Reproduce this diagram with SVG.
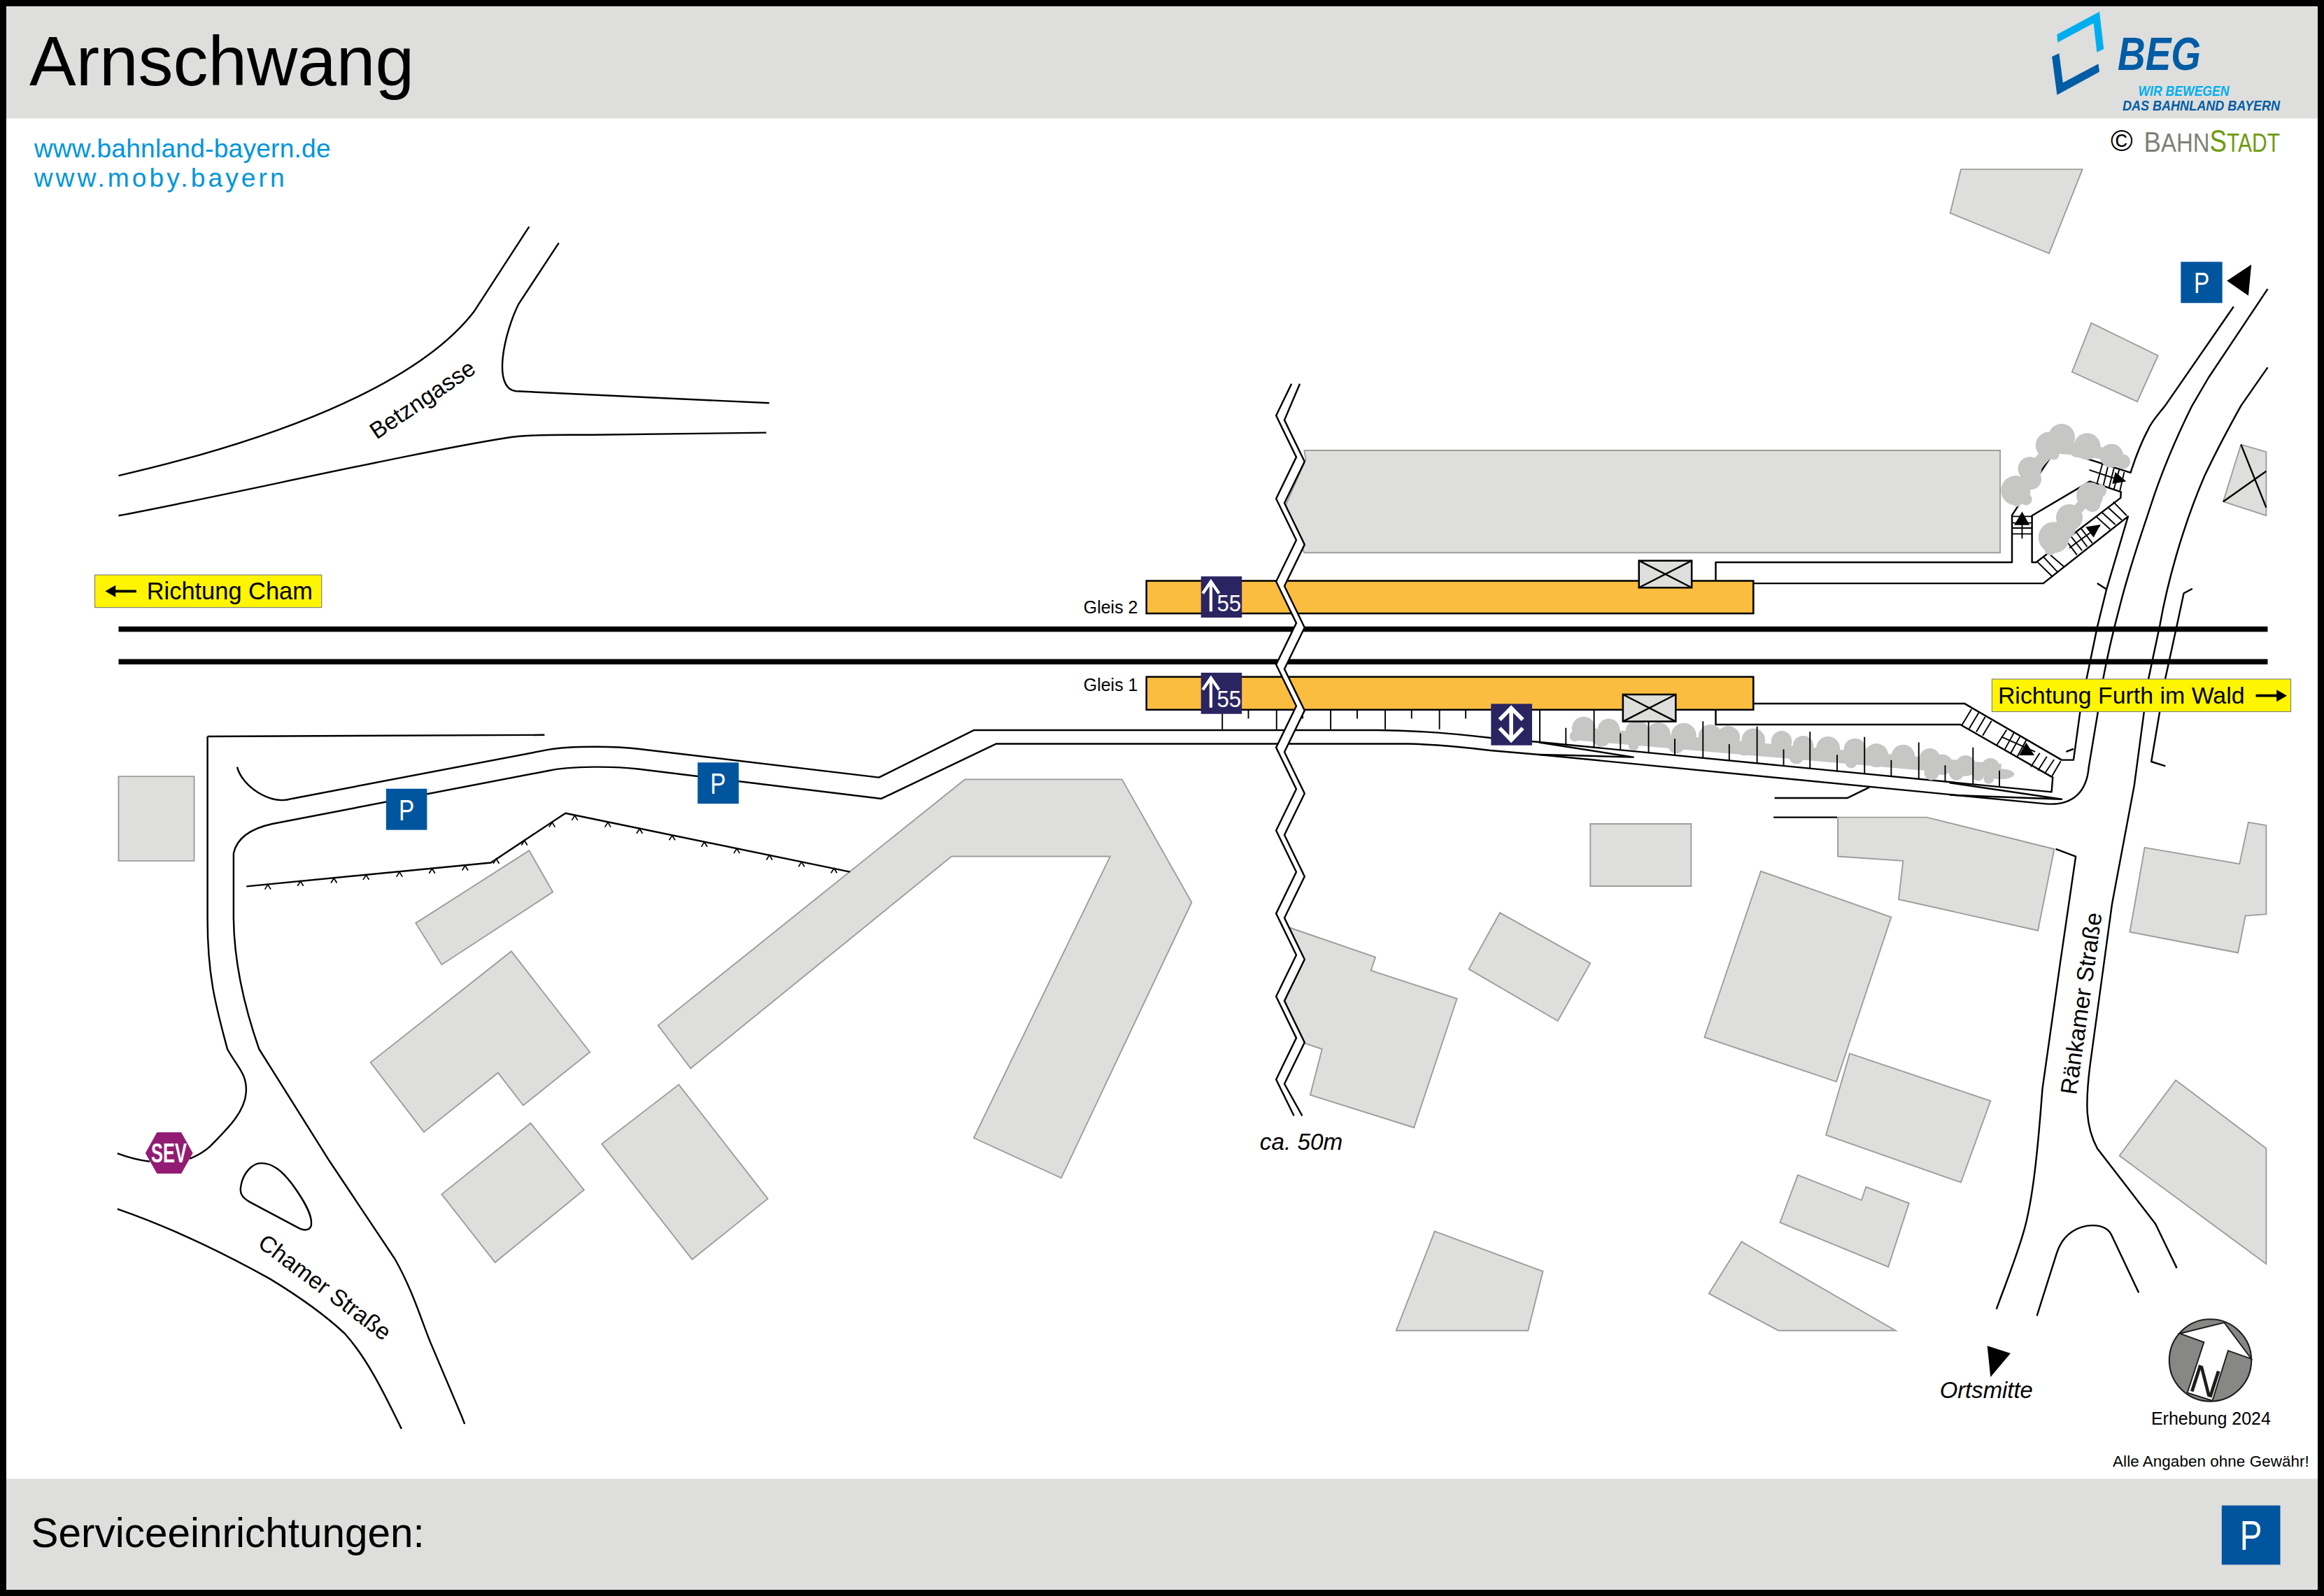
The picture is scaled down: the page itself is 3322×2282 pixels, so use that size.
<svg xmlns="http://www.w3.org/2000/svg" xmlns:xlink="http://www.w3.org/1999/xlink" width="3322" height="2282" viewBox="0 0 3322 2282">
<style>
text{font-family:"Liberation Sans",Arial,sans-serif;fill:#000}
.b{fill:#dededc;stroke:#9d9d9c;stroke-width:.9;stroke-linejoin:miter}
.l{fill:none;stroke:#000;stroke-width:1.15;stroke-linejoin:round}
.t{fill:none;stroke:#000;stroke-width:.9}
.tr{fill:#c6c6c5;stroke:none}
.pf{fill:#fbbd40;stroke:#000;stroke-width:1.2}
.bx{fill:#dededc;stroke:#000;stroke-width:1.2}
.sn{fill:#2a2560}
.pk{fill:#00559f}
.w{fill:none;stroke:#fff;stroke-width:2}
.y{fill:#fff500;stroke:#777;stroke-width:.5}
.pt{fill:#fff;font-size:20px;text-anchor:middle}
.st{font-size:15.7px}
</style>
<defs>
<path id="chev" d="M-2,3.2L0,0L2,3.2" fill="none" stroke="#000" stroke-width=".8"/>
<g id="sign55"><rect class="sn" x="810.3" y="0" width="27.6" height="27.8"/><path d="M817,23.6V3.500M811.500,11.500L817,3.500L822.500,11.500" class="w"/><text x="821" y="23.300" font-size="15.500" textLength="16.400" lengthAdjust="spacingAndGlyphs" style="fill:#fff">55</text></g>
<g id="xbox"><rect class="bx" x="0" y="0" width="35.6" height="18.2"/><path d="M0,0L35.6,18.2M35.6,0L0,18.2" class="l"/></g>
</defs>
<rect x="0" y="0" width="3322" height="2282" fill="#fff"/>
<g id="header">
<rect x="8" y="9" width="3306" height="160.500" fill="#dededc"/>
<text x="42" y="122" font-size="100" textLength="550">Arnschwang</text>
<path id="logo-light" d="M2940.400,49.300L3001,16.700L3007.200,70L2997.400,74.700L2992.600,33.300L2941.200,60.700Z" fill="#00aeef"/>
<path id="logo-dark" d="M2933.100,81L2943.400,76.300L2948.800,118.300L2999.500,91.300L3001,102.700L2940.400,135.700Z" fill="#005ca5"/>
<text x="3027" y="100" font-size="66" font-weight="700" font-style="italic" textLength="119" lengthAdjust="spacingAndGlyphs" style="fill:#005ca5">BEG</text>
<text x="3056.500" y="136.700" font-size="19.500" font-weight="700" font-style="italic" textLength="130" lengthAdjust="spacingAndGlyphs" style="fill:#00aeef">WIR BEWEGEN</text>
<text x="3034" y="157.700" font-size="19.500" font-weight="700" font-style="italic" textLength="225" lengthAdjust="spacingAndGlyphs" style="fill:#005ca5">DAS BAHNLAND BAYERN</text>
</g>
<g id="credits">
<text x="48.700" y="225" font-size="37.200" textLength="424" style="fill:#0095db">www.bahnland-bayern.de</text>
<text x="48.700" y="267" font-size="37.200" textLength="358" style="fill:#0095db">www.moby.bayern</text>
<text x="3017" y="216" font-size="43">©</text>
<text x="3064.500" y="216.700" font-size="36" textLength="94" lengthAdjust="spacingAndGlyphs" style="fill:#7f7f7a"><tspan font-size="40">B</tspan>AHN</text>
<text x="3158.600" y="216.700" font-size="36" textLength="100.400" lengthAdjust="spacingAndGlyphs" style="fill:#6f9a0e"><tspan font-size="44">S</tspan>TADT</text>
</g>
<g id="map" transform="scale(2.11862)">
<g id="buildings">
<path class="b" d="M1323,114.300L1405,114.300L1382.500,171L1315.800,143.800Z"/>
<path class="b" d="M1411,218L1456,240L1442,271L1398,251Z"/>
<path class="b" d="M880,304L1349.500,304L1349.500,373L880,373L867,342L881,310Z"/>
<path class="b" d="M1512,300L1529,305L1529,348L1500,338.500Z"/>
<path class="l" d="M1512,300L1529,342.500M1500,338.500L1529,318"/>
<path class="b" d="M80,524H131V581H80Z"/>
<path class="b" d="M280.500,623L357,574L373,602L298,651Z"/>
<path class="b" d="M345,642L398,710L353,746L336,724L286,764L250,717Z"/>
<path class="b" d="M358,758L394,803L334,852L298,806Z"/>
<path class="b" d="M458,732L518,809L467,850L406,772Z"/>
<path class="b" d="M651,526L757,526L804,609L716,795L657,768L749,578L642,578L466,721L444,692Z"/>
<path class="b" d="M1073,556H1141V598H1073Z"/>
<path class="b" d="M870,626L928,646L925,655L983,674L954,761L884,739L892,708L880,704L866.500,675L880,648Z"/>
<path class="b" d="M1012,616L1073,650L1051,689L991,654Z"/>
<path class="b" d="M1188,588L1276,619L1239,730L1150,700Z"/>
<path class="b" d="M1240,551.600L1300,551.600L1386,573L1375,628L1281,607L1284,581L1240,578Z"/>
<path class="b" d="M1248,711L1343,743L1323,798L1232,766Z"/>
<path class="b" d="M1213,793L1256,810L1259,801L1288,812L1274,855L1201,825Z"/>
<path class="b" d="M968,831L1041,858L1031,898L942,898Z"/>
<path class="b" d="M1175,838L1279,898L1200,898L1153,873Z"/>
<path class="b" d="M1447,572L1511,583L1517,555L1529,557L1529,617L1515,618L1510,643L1437,629Z"/>
<path class="b" d="M1468,729L1529,775L1529,853L1430,780Z"/>
</g>
<g id="connectors">
<path class="l" d="M80,321C180,298 280,262 320,210L357,153"/>
<path class="l" d="M80,348C150,335 280,305 345,295C360,293 380,293.500 400,293.500L517,292"/>
<path class="l" d="M377,164L350,205C340,225 332,262 348,264L519,272"/>
<path class="l" d="M160,517.600C163,530 182,544 197,539L370.600,505.800C385,503.500 415,503.500 430.500,505.400L593,524.700L657,492.800L930,492.800C955,493 985,495.500 1005.600,498L1038.400,500.800L1384.200,534.500L1385,524.700L1322.600,489H1157.600V479"/>
<path class="l" d="M140,497L367.400,496M140,497V620C140,660 146,680 153.400,708C160,720 167,725 166,737.500C165,752 150,765 141.600,773.800C137,778 133,780 128,782M79.200,778.400C86,781 94,783 101,783.900"/>
<path class="l" d="M157.600,575.800C160,565 170,559 183.700,556L370.600,520C385,517 415,517 430.500,519L594.600,539L672,502L950,502C970,502.500 990,504.500 1005.600,506.500L1038.400,509.300L1380.400,542.500C1399.600,544 1408,533.300 1409.300,517.600L1415.300,481.500L1418.900,458.600C1422,442 1426,425 1430,410C1437,382 1445,360 1451,341.500C1458,320 1468,296 1479,273.800L1490,255L1530,195"/>
<path class="l" d="M157.600,575.800V620C158,650 165,680 174.800,708L222.500,783.900L266.400,849.600C278,870 284,890 290,905L311.500,955.800L313.500,961"/>
<path class="l" d="M79.200,815.900C120,830 155,848 182,863C205,877 222,890 232.600,900C248,917 260,942 270.900,964.300"/>
<path class="l" d="M176.200,785C184,785 190,790 197,799C205,810 211,820 210,827C209,830 206,831 202,829L168.500,811.200C163,808 161.500,805 162.600,800C164,792 170,785 176.200,785Z"/>
<path class="l" d="M1038.400,501L1102,511L1060,509.800L1038.400,509.300M1315.300,528.300L1391,539.400L1315.300,536.500"/>
<path class="l" d="M1197.300,538.600H1246.300L1261.300,531.300M1196.600,551.600H1239.500"/>
<path class="l" d="M1183,474.800H1325.400L1391,512.900H1399L1403.300,481.500L1407.700,458.600L1415,423.300L1421.200,398L1435.800,348.500L1378.600,393.700H1183"/>
<path class="l" d="M1415,393.700L1421.200,397.700M1394,507.400L1399,505.400M1479.200,397.300L1473.400,400.400L1468.500,423.300L1460.800,458.600L1451.500,514L1461,517"/>
<path class="l" d="M1157.600,391.800V379.500H1357.500V347.700L1387.200,302.900L1437.500,319C1441,308 1445,298 1449.500,289.500C1452,284 1456,280 1460.800,273.800L1507,207"/>
<path class="l" d="M1371,379.500V348L1410,324.900L1431,332L1430.800,336L1373.800,379.500Z"/>
<path class="l" d="M1530,248L1512,273.800C1503,290 1495,305 1487.500,321C1472,357 1462,395 1457.300,421.700L1449.500,458.600L1440,530L1425,610L1410,720C1407,745 1407,760 1415,775L1454.300,826L1468.700,855.800"/>
<path class="l" d="M1387,573L1400.500,578L1390,650L1378,735C1375,775 1372,805 1366.800,826C1362,845 1354,864 1347,883.500"/>
<path class="l" d="M1374.300,888L1387.700,845.700C1392,832 1403,827 1412,827C1418,827 1423,829 1425.200,834.700L1443,872.400"/>
</g>
<g id="stairs">
<path class="t" d="M1357.500,348.500H1371M1357.500,352.900H1371M1357.500,356.400H1371M1357.500,360.300H1371M1364.300,363.400V350"/>
<path class="t" d="M1418.500,313.100L1414.800,326.500M1422.300,314.400L1419.100,327.800M1426.300,316L1422.900,329.200M1429.800,317.100L1426.300,330.100M1433.200,318.600L1430.300,331.200M1409.600,317.100L1430,324"/>
<path class="t" d="M1374.600,379.200L1385,389.400M1378.900,376L1388.400,386.300M1382.400,373.700L1392.400,382.300M1393.600,364.200L1401.300,374.500M1397,361.600L1404.800,371.600M1400.500,358.700L1408.200,369M1403.900,356.400L1411.700,366.600M1396.200,369.800L1416.800,354.800M1414.200,348.500L1423.700,357.200M1417.700,345.400L1427.200,354M1422,342.200L1431.500,350.900M1425.800,338.600L1434.900,348"/>
<path class="t" d="M1330.200,478.600L1323.700,489.300M1335,481.100L1328.600,491.700M1339.400,483.800L1333.400,494M1343.700,486.500L1337.700,496.400M1353.900,492.500L1347.300,502.700M1358.700,494.800L1352.600,505.800M1362.800,497.200L1356.700,508.200M1367.100,499.500L1361.100,510.600M1350.200,497.200L1373.100,507.400M1376.200,508.200L1370.200,517.600M1381,510.600L1375,520M1385.900,512.600L1379.600,522M1390.400,513.700L1384.400,523.900"/>
<path d="M1364.300,345.300L1369.400,354.300H1359ZM1434.600,324.900L1427.200,318.600L1425.100,326.500ZM1417.300,354L1407.200,355.600L1412.500,362.700ZM1367.100,501.100L1372.600,509.800H1362.300Z"/>
</g>
<g id="trees" class="tr">
<path d="M1360,335L1370,318L1385,302L1400,303L1425,307L1433,312" fill="none" stroke="#c6c6c5" stroke-width="8"/>
<path d="M1384,365L1396,350L1410,335L1417,331" fill="none" stroke="#c6c6c5" stroke-width="7"/>
<circle cx="1360" cy="331" r="10"/><circle cx="1369.500" cy="316.300" r="8"/><circle cx="1370.300" cy="323.400" r="7"/><circle cx="1382.400" cy="300.500" r="9"/><circle cx="1391" cy="295" r="9"/><circle cx="1385.800" cy="306.800" r="3.500"/><circle cx="1401.300" cy="303.700" r="5"/><circle cx="1408.200" cy="301.300" r="9"/><circle cx="1424.600" cy="307.600" r="8"/><circle cx="1432.300" cy="311.600" r="5"/><circle cx="1367" cy="337" r="4"/><circle cx="1360.900" cy="339" r="3"/>
<circle cx="1385.800" cy="362.700" r="10.500"/><circle cx="1396.200" cy="349.300" r="9"/><circle cx="1394.400" cy="357.200" r="6"/><circle cx="1410" cy="334.400" r="9"/><circle cx="1411.700" cy="340" r="5.500"/><circle cx="1416.800" cy="331.200" r="4.500"/><circle cx="1383.200" cy="371.300" r="3.500"/>
<path d="M1063,495L1350,520" fill="none" stroke="#c6c6c5" stroke-width="9"/>
<circle cx="1068.500" cy="491.700" r="8"/><circle cx="1062.500" cy="496.900" r="3.500"/><circle cx="1085.400" cy="492.500" r="7.500"/><circle cx="1080.500" cy="498" r="6"/><circle cx="1104.600" cy="494" r="8"/><circle cx="1102.200" cy="503" r="3.500"/><circle cx="1119" cy="495.600" r="8"/><circle cx="1136" cy="496.400" r="8.500"/><circle cx="1131" cy="503" r="5.500"/><circle cx="1154" cy="497" r="8"/><circle cx="1166" cy="498" r="8"/><circle cx="1183" cy="499.600" r="8"/><circle cx="1177" cy="505" r="5"/><circle cx="1202" cy="500.300" r="7"/><circle cx="1216.600" cy="503.500" r="7"/><circle cx="1212" cy="510.600" r="5"/><circle cx="1233.400" cy="505" r="8"/><circle cx="1251.500" cy="505.800" r="7.500"/><circle cx="1249" cy="514.500" r="4"/><circle cx="1266" cy="509.800" r="8"/><circle cx="1284" cy="510.600" r="8"/><circle cx="1302" cy="512" r="7"/><circle cx="1310.500" cy="516" r="7"/><circle cx="1320" cy="521.600" r="5"/><circle cx="1326.200" cy="516.800" r="7"/><circle cx="1343" cy="517.600" r="6"/><circle cx="1341.800" cy="525.500" r="3.500"/><ellipse cx="1350" cy="522.400" rx="9" ry="3.500"/><circle cx="1303.300" cy="521.600" r="5"/><circle cx="1334.600" cy="523" r="4"/>
</g>
<g id="fence">
<path class="t" d="M824.700,479V492.200M842.300,479V485M861.300,479V492.200M878.900,479V485M897.800,479V492.200M915.700,479V485M934.600,479V492.200M952.400,479V485M971.200,479V492.200M988.900,479V485"/>
<path class="t" d="M1038.900,475.900V500.800M1056.500,491.200V502.500M1075.500,479V504.400M1093.300,494.900V506.200M1112.300,483.100V508M1130,498.600V509.900M1149,486.800V511.600M1166.700,502.200V513.500M1185.500,490.300V515.200M1203.400,505.800V517.100M1221.200,493.800V518.600M1239.500,509.400V520.700M1258,497.400V522.200M1276,512.900V524.200M1294.600,501V525.800M1312.400,516.500V527.800M1331.200,504.500V529.400M1349,520V531.300"/>
<path class="l" d="M166.300,598.200L331.200,582.200L381.500,548.800L573.500,588.400"/>
<use href="#chev" x="180.700" y="597"/><use href="#chev" x="202.700" y="594.700"/><use href="#chev" x="225.300" y="592.700"/><use href="#chev" x="247" y="590.500"/><use href="#chev" x="269.500" y="588.500"/><use href="#chev" x="291.500" y="586.200"/><use href="#chev" x="313.800" y="584.200"/><use href="#chev" x="334.800" y="579.600"/><use href="#chev" x="353.800" y="567.200"/><use href="#chev" x="372.500" y="555"/><use href="#chev" x="387.800" y="550.400"/><use href="#chev" x="410.100" y="555"/><use href="#chev" x="431.500" y="559.300"/><use href="#chev" x="453.500" y="563.800"/><use href="#chev" x="475.200" y="568.300"/><use href="#chev" x="497.100" y="572.700"/><use href="#chev" x="519.100" y="577.100"/><use href="#chev" x="540.800" y="581.700"/><use href="#chev" x="562.700" y="586"/>
</g>
<g id="tracks">
<rect x="80" y="422.800" width="1450" height="3.600"/>
<rect x="80" y="444.800" width="1450" height="3.600"/>
</g>
<g id="platform-2"><rect class="pf" x="773.500" y="392" width="409.500" height="22"/><text x="731" y="414" font-size="11.800">Gleis 2</text></g>
<g id="platform-1"><rect class="pf" x="773.500" y="456.800" width="409.500" height="22.200"/><text x="731" y="466.500" font-size="11.800">Gleis 1</text></g>
<g id="underpass">
<path fill="#fff" d="M871.400,259L861,280.500L874.600,308.500L861,336.500L874.600,364.500L861,392.500L874.600,420.500L861,448.500L874.600,476.500L861,504.500L874.600,532.500L861,560.500L874.600,588.500L861,616.500L874.600,644.500L861,672.500L874.600,700.500L861,728.500L873,753L878.600,753L866.600,731.500L880.200,703.500L866.600,675.500L880.200,647.500L866.600,619.500L880.200,591.500L866.600,563.500L880.200,535.500L866.600,507.500L880.200,479.500L866.600,451.500L880.200,423.500L866.600,395.500L880.200,367.500L866.600,339.500L880.200,311.500L866.600,283.500L877,259Z"/>
<path class="l" d="M877,259L866.600,283.500L880.200,311.500L866.600,339.500L880.200,367.500L866.600,395.500L880.200,423.500L866.600,451.500L880.200,479.500L866.600,507.500L880.200,535.500L866.600,563.500L880.200,591.500L866.600,619.500L880.200,647.500L866.600,675.500L880.200,703.500L866.600,731.500L878.600,753"/>
<path class="l" d="M871.400,259L861,280.500L874.600,308.500L861,336.500L874.600,364.500L861,392.500L874.600,420.500L861,448.500L874.600,476.500L861,504.500L874.600,532.500L861,560.500L874.600,588.500L861,616.500L874.600,644.500L861,672.500L874.600,700.500L861,728.500L873,753"/>
<text x="850" y="776" font-size="15.700" font-style="italic">ca. 50m</text>
</g>
<g id="sign-55-2"><use href="#sign55" y="389"/></g>
<g id="sign-55-1"><use href="#sign55" y="454"/></g>
<g id="lift"><rect class="sn" x="1006" y="475" width="27.700" height="28"/><path d="M1019.600,478V499.500M1011.800,485.700L1019.600,477.800L1027.400,485.700M1011.800,491.400L1019.600,499.500L1027.400,491.400" fill="none" stroke="#fff" stroke-width="2.600"/></g>
<g id="elevator-2"><use href="#xbox" x="1105.800" y="378.400"/></g>
<g id="elevator-1"><use href="#xbox" x="1095" y="468.700"/></g>
<g id="parking">
<g id="p1"><rect class="pk" x="260.500" y="532.300" width="27.600" height="27.800"/><text class="pt" x="274.300" y="553.500" textLength="10.500" lengthAdjust="spacingAndGlyphs">P</text></g>
<g id="p2"><rect class="pk" x="470.700" y="514.600" width="27.700" height="27.800"/><text class="pt" x="484.500" y="535.800" textLength="10.500" lengthAdjust="spacingAndGlyphs">P</text></g>
<g id="p3"><rect class="pk" x="1471.400" y="176.700" width="28" height="27.800"/><text class="pt" x="1485.400" y="197.900" textLength="10.500" lengthAdjust="spacingAndGlyphs">P</text><path d="M1502.500,189.500L1519,178.500L1517,199.500Z"/></g>
</g>
<g id="sev"><path fill="#921c73" d="M98.100,778.200L105.900,764.200H122.300L130.100,778.200L122.300,792H105.900Z"/><text x="114" y="784.600" font-size="18" font-weight="700" text-anchor="middle" textLength="24" lengthAdjust="spacingAndGlyphs" style="fill:#fff">SEV</text></g>
<g id="dir-cham"><rect class="y" x="64" y="388" width="153" height="22"/><path d="M92,399H76" stroke="#000" stroke-width="1.800"/><path d="M71,399L78,395V403Z"/><text x="99" y="404.500" font-size="16.250">Richtung Cham</text></g>
<g id="dir-furth"><rect class="y" x="1344" y="458.300" width="201.600" height="22"/><path d="M1522,469.500H1537" stroke="#000" stroke-width="1.800"/><path d="M1543,469.500L1536,465.500V473.500Z"/><text x="1348" y="474.700" font-size="16">Richtung Furth im Wald</text></g>
<g id="road-labels">
<text class="st" text-anchor="middle" transform="translate(288,274) rotate(-34)">Betzngasse</text>
<text class="st" text-anchor="middle" transform="translate(216,873) rotate(37)">Chamer Straße</text>
<text class="st" text-anchor="middle" transform="translate(1409.500,678) rotate(-82)">Ränkamer Straße</text>
</g>
<g id="ortsmitte"><path d="M1340.800,908.300L1356.500,913.300L1343,929.400Z"/><text x="1308.700" y="943.700" font-size="15.500" font-style="italic">Ortsmitte</text></g>
<g id="north">
<circle cx="1491.300" cy="918" r="27.700" fill="#878786" stroke="#1d1d1b" stroke-width="1"/>
<path fill="#fff" stroke="#1d1d1b" stroke-width=".9" d="M1470.700,900L1500.700,892.600L1518.900,917L1503.300,911.500L1492.700,945.300L1475.800,940L1487,905.800Z"/>
<text font-size="27" text-anchor="middle" transform="translate(1485,941) rotate(18)" style="fill:#1d1d1b">N</text>
<text x="1451.400" y="961.300" font-size="11.800">Erhebung 2024</text>
</g>
<text id="disclaimer" x="1425.500" y="990" font-size="10.600" textLength="132.500">Alle Angaben ohne Gewähr!</text>
<g id="footer">
<rect x="3.800" y="998" width="1560.400" height="74.500" fill="#dededc"/>
<text x="21" y="1044" font-size="27.600">Serviceeinrichtungen:</text>
<rect class="pk" x="1499" y="1016" width="39.500" height="40"/><text class="pt" x="1518.800" y="1046" textLength="15" lengthAdjust="spacingAndGlyphs" style="font-size:28px">P</text>
</g>
</g>
<rect id="frame" x="4.500" y="4.500" width="3313" height="2273" fill="none" stroke="#000" stroke-width="9"/>
</svg>
